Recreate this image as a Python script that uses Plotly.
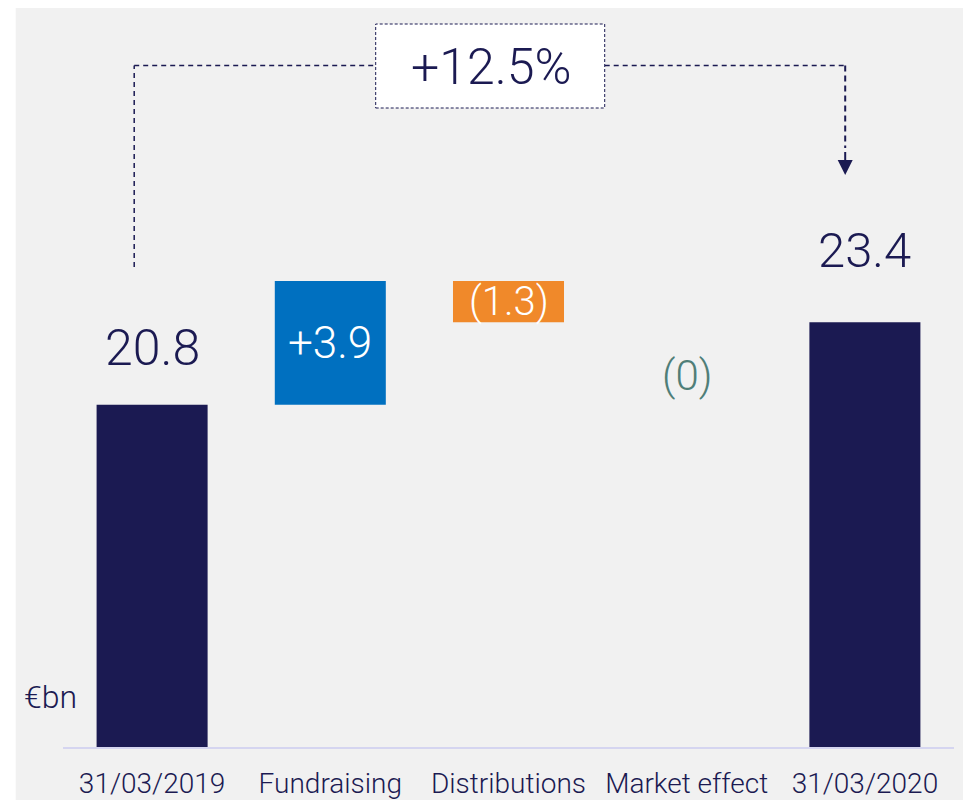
import plotly.graph_objects as go

# ---- data ----
categories = ["31/03/2019", "Fundraising", "Distributions", "Market effect", "31/03/2020"]
values = [20.8, 3.9, -1.3, 0.0, 23.4]
measures = ["absolute", "relative", "relative", "relative", "total"]
value_labels = ["20.8", "+3.9", "(1.3)", "(0)", "23.4"]
change_label = "+12.5%"
unit_label = "€bn"

# ---- style ----
NAVY = "#1b1a52"
BLUE = "#0070c0"
ORANGE = "#f0892a"
TEAL = "#4f7e78"
BG = "#f1f1f1"
FONT = "Roboto"

OFF = 8                      # page body margin
W, H = 963, 800              # figure size
# plot area in screen pixels
L, R, T, B = 63.3, 954.3, 16, 747
Y0, SCALE = 10.0, 31.7       # axis start value, px per unit
ymax = Y0 + (B - T) / SCALE


def px(x):
    return (x - L) / (R - L)


def py(y):
    return (B - y) / (B - T)


fig = go.Figure()
fig.add_trace(go.Waterfall(
    x=categories, y=values, measure=measures,
    width=0.623,
    totals=dict(marker=dict(color=NAVY)),
    increasing=dict(marker=dict(color=BLUE)),
    decreasing=dict(marker=dict(color=ORANGE)),
    connector=dict(visible=False),
    hoverinfo="skip",
))

# value labels positioned from the data
label_colors = [NAVY, "white", "white", TEAL, NAVY]
label_sizes = [50, 44, 40, 42, 49]
label_shift = [57, 0, 0, -53, 72]
running = 0.0
for cat, v, m, txt, col, sz, sh in zip(categories, values, measures, value_labels,
                                       label_colors, label_sizes, label_shift):
    if m == "absolute":
        base, top = 0.0, v
        running = v
        ypos = top
    elif m == "total":
        base, top = 0.0, running
        ypos = top
    else:
        base, top = running, running + v
        running = top
        ypos = (base + top) / 2 if v != 0 else top
    fig.add_annotation(x=cat, y=ypos, text=txt, showarrow=False, yshift=sh,
                       yanchor="middle", xanchor="center",
                       font=dict(family=FONT, size=sz, color=col, weight=300))

shapes = []
# grey panel
shapes.append(dict(type="rect", xref="paper", yref="paper", x0=px(16), x1=px(W + OFF + 2),
                   y0=py(H + OFF + 2), y1=py(8), fillcolor=BG, line=dict(width=0), layer="below"))
dash_line = dict(color=NAVY, width=1.5, dash="5px,4px")
# bracket
shapes.append(dict(type="line", xref="paper", yref="paper", x0=px(134.5), x1=px(134.5),
                   y0=py(267), y1=py(65.5), line=dash_line))
shapes.append(dict(type="line", xref="paper", yref="paper", x0=px(134.5), x1=px(376),
                   y0=py(65.5), y1=py(65.5), line=dash_line))
shapes.append(dict(type="line", xref="paper", yref="paper", x0=px(605), x1=px(845.5),
                   y0=py(65.5), y1=py(65.5), line=dash_line))
shapes.append(dict(type="line", xref="paper", yref="paper", x0=px(845.5), x1=px(845.5),
                   y0=py(65.5), y1=py(148), line=dict(color=NAVY, width=2, dash="6px,4px")))
shapes.append(dict(type="line", xref="paper", yref="paper", x0=px(845.5), x1=px(845.5),
                   y0=py(152), y1=py(161), line=dict(color=NAVY, width=2)))
shapes.append(dict(type="path", xref="paper", yref="paper",
                   path=f"M {px(838)},{py(160)} L {px(853)},{py(160)} L {px(845.5)},{py(175)} Z",
                   fillcolor=NAVY, line=dict(width=0)))
# percentage box
shapes.append(dict(type="rect", xref="paper", yref="paper", x0=px(376), x1=px(605),
                   y0=py(108), y1=py(24), fillcolor="white",
                   line=dict(color=NAVY, width=1, dash="3px,2px")))

fig.add_annotation(xref="paper", yref="paper", x=px(491), y=py(67), text=change_label,
                   showarrow=False, xanchor="center", yanchor="middle",
                   font=dict(family=FONT, size=50, color=NAVY, weight=300))
fig.add_annotation(xref="paper", yref="paper", x=px(50.5), y=py(697), text=unit_label,
                   showarrow=False, xanchor="center", yanchor="middle",
                   font=dict(family=FONT, size=32, color=NAVY, weight=300))

fig.update_layout(
    width=W, height=H,
    margin=dict(l=L - OFF, r=(W + OFF) - R, t=T - OFF, b=(H + OFF) - B, pad=0,
                autoexpand=False),
    paper_bgcolor="white", plot_bgcolor="rgba(0,0,0,0)",
    showlegend=False, shapes=shapes,
    xaxis=dict(range=[-0.5, 4.5], showline=True, linecolor="#d5d5f0", linewidth=2,
               showgrid=False, zeroline=False, ticks="", ticklabelstandoff=10,
               automargin=False,
               tickfont=dict(family=FONT, size=28, color=NAVY, weight=300)),
    yaxis=dict(range=[Y0, ymax], visible=False, showgrid=False, zeroline=False,
               automargin=False),
)

fig.write_html("out.html")
